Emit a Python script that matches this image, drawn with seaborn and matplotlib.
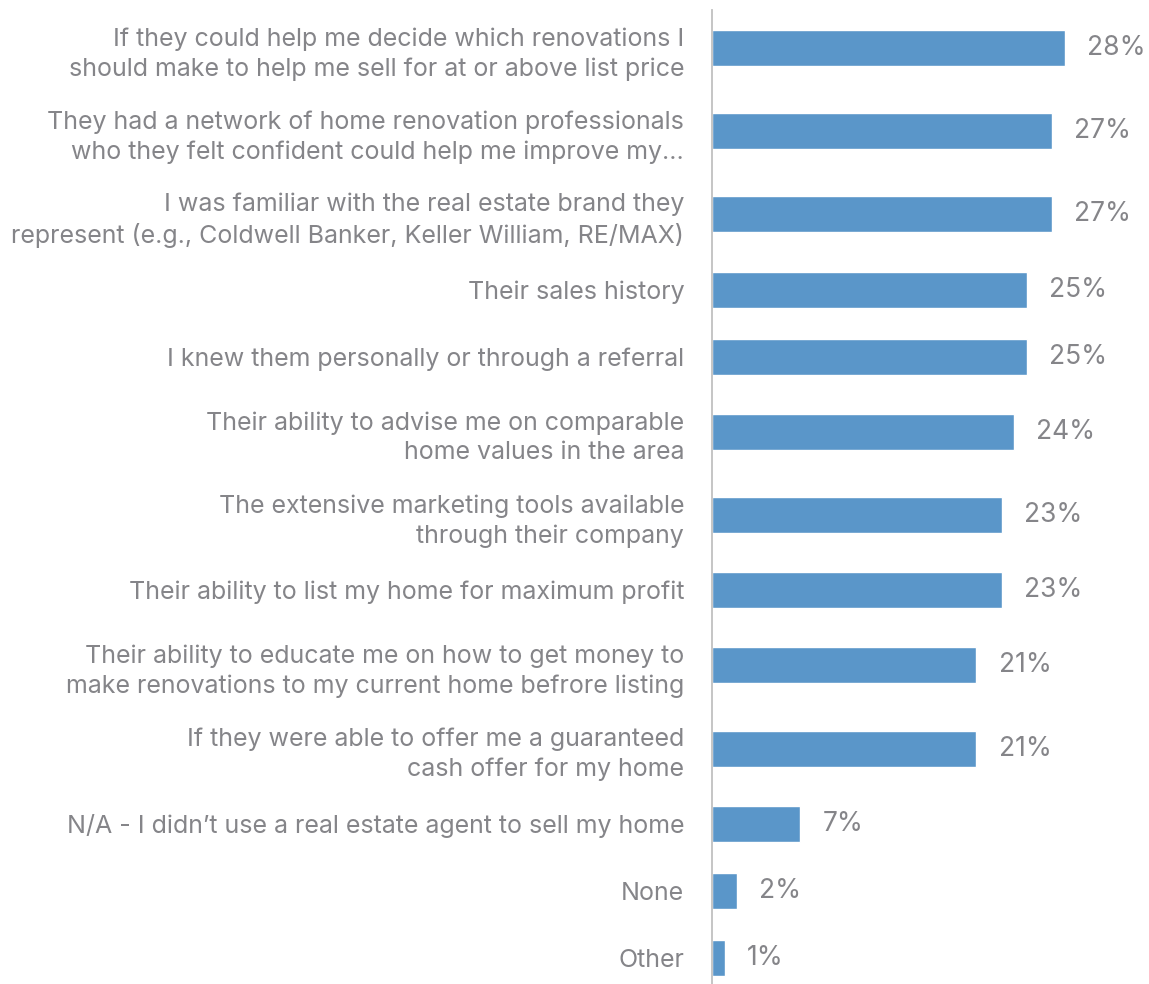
import numpy as np
import pandas as pd
import matplotlib
matplotlib.use("Agg")
import matplotlib.pyplot as plt
import seaborn as sns

# Survey answers (top to bottom) and share of respondents, in percent
reasons = [
    "If they could help me decide which renovations I\nshould make to help me sell for at or above list price",
    "They had a network of home renovation professionals\nwho they felt confident could help me improve my...",
    "I was familiar with the real estate brand they\nrepresent (e.g., Coldwell Banker, Keller William, RE/MAX)",
    "Their sales history",
    "I knew them personally or through a referral",
    "Their ability to advise me on comparable\nhome values in the area",
    "The extensive marketing tools available\nthrough their company",
    "Their ability to list my home for maximum profit",
    "Their ability to educate me on how to get money to\nmake renovations to my current home befrore listing",
    "If they were able to offer me a guaranteed\ncash offer for my home",
    "N/A - I didn\u2019t use a real estate agent to sell my home",
    "None",
    "Other",
]
shares = [28, 27, 27, 25, 25, 24, 23, 23, 21, 21, 7, 2, 1]

BAR_COLOR = "#5a96c9"
TEXT_COLOR = "#858589"
AXIS_COLOR = "#c0c0c0"

sns.set_theme(style="white")
plt.rcParams["font.family"] = ["Inter", "DejaVu Sans"]

# Rows with wrapped labels get a little more room than single-line rows
row_heights = np.array([1.0 + 0.239 * (lab.count("\n")) for lab in reasons])
ends = np.cumsum(row_heights)
centers = ends - row_heights / 2.0

df = pd.DataFrame({"reason": reasons, "share": shares, "pos": centers})

fig = plt.figure(figsize=(11.49, 9.84), dpi=100)
ax = fig.add_axes([712 / 1149, 0.0, 1 - 712 / 1149, 974 / 984])

sns.barplot(data=df, x="share", y="pos", orient="y", native_scale=True,
            color=BAR_COLOR, saturation=1, width=0.537, ax=ax)

ax.set_xlim(0, 34.7)
ax.set_ylim(centers[-1] + 26 / 67, centers[0] - 38 / 67)

ax.set_yticks(centers)
ax.set_yticklabels(reasons, ha="right", fontsize=18, color=TEXT_COLOR,
                   linespacing=1.36)
ax.tick_params(axis="y", length=0, pad=20)
ax.set_xticks([])
ax.set_xlabel("")
ax.set_ylabel("")

for side in ("top", "right", "bottom"):
    ax.spines[side].set_visible(False)
ax.spines["left"].set_color(AXIS_COLOR)
ax.spines["left"].set_linewidth(1.3)

for container in ax.containers:
    ax.bar_label(container, labels=[f"{v}%" for v in shares], padding=16,
                 fontsize=19, color=TEXT_COLOR)

fig.savefig("out.png", dpi=100, facecolor="white")
